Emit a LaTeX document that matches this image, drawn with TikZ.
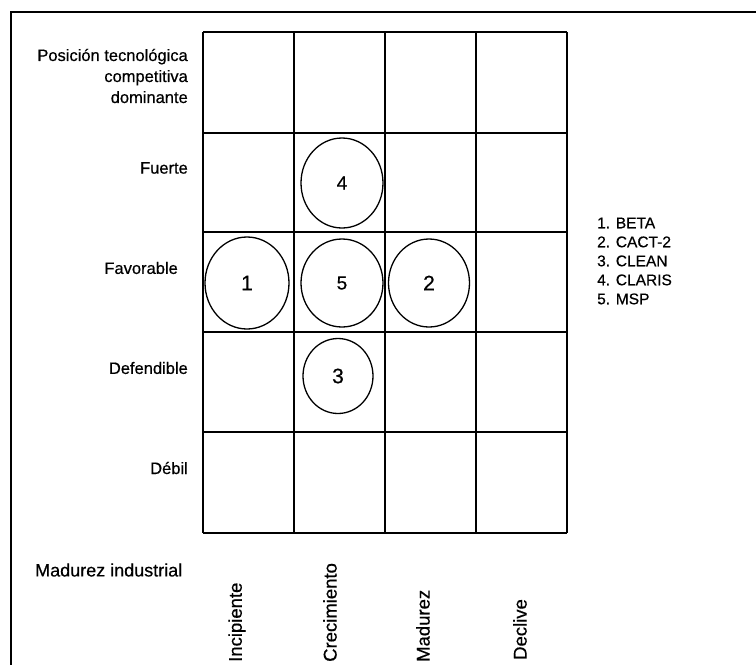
\documentclass[tikz,border=0pt]{standalone}
\usepackage{fontspec}
\setmainfont{Liberation Sans}[FakeBold=0.5]
\usetikzlibrary{shapes.geometric}
\begin{document}
\begin{tikzpicture}[x=1pt,y=-1pt,
  frame/.style={line width=2.4pt},
  gridline/.style={line width=1.8pt},
  bubble/.style={draw,ellipse,line width=1.3pt,inner sep=0pt},
  rowlabel/.style={anchor=east,align=right,inner sep=0pt,font=\fontsize{16.5}{21}\selectfont},
  collabel/.style={anchor=west,rotate=90,inner sep=0pt,font=\fontsize{18.5}{22}\selectfont},
  legendtext/.style={anchor=west,align=left,inner sep=0pt,font=\fontsize{15.5}{19}\selectfont}]
\useasboundingbox (0,0) rectangle (756,665);
\fill[white] (0,0) rectangle (756,665);

% outer frame (top and left sides)
\coordinate (ftr) at (756,12);
\coordinate (ftl) at (11,12);
\coordinate (fbl) at (11,665);
\draw[frame] (ftr) -- (ftl) -- (fbl);

% 4 x 5 matrix
\foreach \x in {203,294,385,476,567} \draw[gridline] (\x,32) -- (\x,533);
\foreach \y in {32,133,232,332,432,533} \draw[gridline] (203,\y) -- (567,\y);

% row labels
\node[rowlabel] (dom) at (188,76) {Posición tecnológica\\competitiva\\dominante};
\node[rowlabel] (fue) at (188,168) {Fuerte};
\node[rowlabel] (fav) at (178,268) {Favorable};
\node[rowlabel] (def) at (188,368) {Defendible};
\node[rowlabel] (deb) at (188,468) {Débil};

% column labels
\node[anchor=west,inner sep=0pt,font=\fontsize{18}{22}\selectfont] (mad) at (35,570) {Madurez industrial};
\node[collabel] (inc) at (237,662) {Incipiente};
\node[collabel] (cre) at (330,662) {Crecimiento};
\node[collabel] (mdz) at (423,662) {Madurez};
\node[collabel] (dec) at (520,660) {Declive};

% projects
\node[bubble,minimum width=82,minimum height=90,font=\fontsize{19}{22}\selectfont] (p4) at (342,183) {4};
\node[bubble,minimum width=84,minimum height=92,font=\fontsize{21}{24}\selectfont] (p1) at (247,283) {1};
\node[bubble,minimum width=82,minimum height=88,font=\fontsize{19}{22}\selectfont] (p5) at (342,283) {5};
\node[bubble,minimum width=81,minimum height=88,font=\fontsize{21}{24}\selectfont] (p2) at (429,283) {2};
\node[bubble,minimum width=70,minimum height=75,font=\fontsize{21}{24}\selectfont] (p3) at (338,376) {3};

% legend
\node[legendtext] (leg) at (597,261) {1. BETA\\2. CACT-2\\3. CLEAN\\4. CLARIS\\5. MSP};
\end{tikzpicture}
\end{document}
